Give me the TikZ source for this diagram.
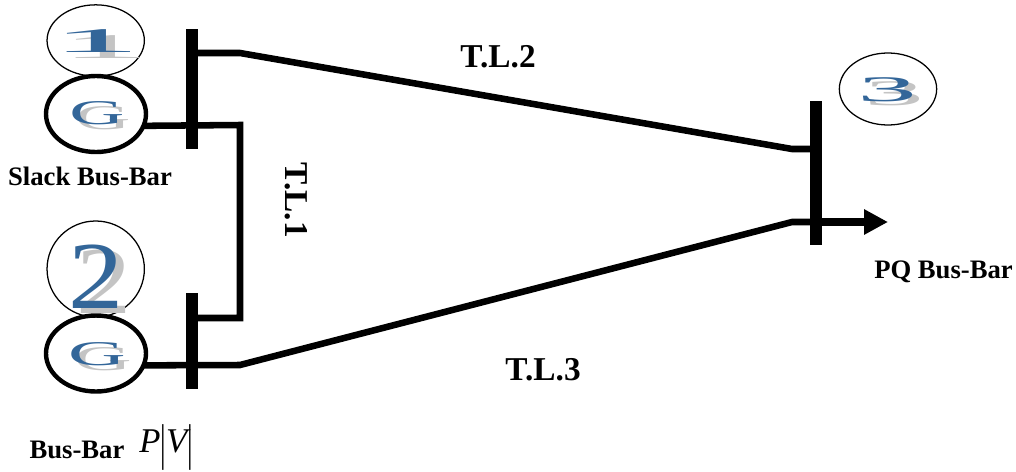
\documentclass[tikz,border=0pt]{standalone}
\usepackage{fontspec}
\usepackage{graphicx}
\setmainfont{Liberation Serif}
\usetikzlibrary{shapes.geometric,arrows.meta}
\definecolor{wablue}{HTML}{336699}
\definecolor{wagray}{HTML}{C4C4C4}
\tikzset{
  busbar/.style={draw=none,fill=black,minimum width=9pt,inner sep=0pt,outer sep=0pt},
  gen/.style={ellipse,draw=black,line width=3.3pt,minimum width=75pt,minimum height=57pt,inner sep=0pt,outer sep=0pt},
  numring/.style={ellipse,draw=black,line width=0.95pt,minimum width=73pt,inner sep=0pt,outer sep=0pt},
  wire/.style={line width=4.9pt,line join=miter},
  lbl/.style={font=\fontsize{20}{22}\selectfont\bfseries,inner sep=0pt},
  tllbl/.style={font=\fontsize{25}{27}\selectfont\bfseries,inner sep=0pt},
  wordart/.style={inner sep=0pt,outer sep=0pt,text=wablue},
  wordshadow/.style={inner sep=0pt,outer sep=0pt,text=wagray}
}
\begin{document}
\begin{tikzpicture}[x=0.75pt,y=-0.75pt]
\useasboundingbox (0,0) rectangle (1016,471);
% bars
\node[busbar,minimum height=90pt] (bar1) at (192,89) {};
\node[busbar,minimum height=72pt] (bar2) at (192,341) {};
\node[busbar,minimum height=108pt] (bar3) at (816,173) {};
% rings and generators
\node[numring,minimum height=53.5pt] (ring1) at (95.7,40.5) {};
\node[gen] (gen1) at (96,114) {};
\node[numring,minimum height=72pt] (ring2) at (95.7,269) {};
\node[gen] (gen2) at (96,353.5) {};
\node[numring,minimum height=54pt] (ring3) at (888,89) {};
% corners
\coordinate (c1) at (240,125);
\coordinate (c2) at (240,318);
\coordinate (t2a) at (240,53);
\coordinate (t2b) at (792,149);
\coordinate (t3a) at (240,365);
\coordinate (t3b) at (792,222);
\coordinate (loadend) at (888,222);
% connectors
\draw[wire] (gen1.-14) -- (c1) -- (c2) -- (bar2.center |- c2);
\draw[wire] (bar1.center |- t2a) -- (t2a) -- (t2b) -- (bar3.center |- t2b);
\draw[wire] (gen2.-14) -- (t3a) -- (t3b) -- (bar3.center |- t3b);
\draw[line width=5.4pt,-{Triangle[length=18pt,width=18pt]}] (bar3.center |- t3b) -- (loadend);
% number and generator glyphs
\node[wordshadow,xscale=5.2] (s1) at (105,47) {\fontsize{26}{26}\selectfont 1};
\node[wordart,xscale=5.2] (n1) at (96,41.5) {\fontsize{26}{26}\selectfont 1};
\node[wordshadow,xscale=2.2] (sg1) at (103,118) {\fontsize{26}{26}\selectfont G};
\node[wordart,xscale=2.2] (g1) at (97,113.5) {\fontsize{26}{26}\selectfont G};
\node[wordshadow,xscale=1.15] (s2) at (104,282) {\fontsize{72}{72}\selectfont 2};
\node[wordart,xscale=1.15] (n2) at (96.5,277) {\fontsize{72}{72}\selectfont 2};
\node[wordshadow,xscale=2.3] (sg2) at (103,359) {\fontsize{26}{26}\selectfont G};
\node[wordart,xscale=2.3] (g2) at (97,354.5) {\fontsize{26}{26}\selectfont G};
\node[wordshadow,xscale=3.3] (s3) at (894,94) {\fontsize{27}{27}\selectfont 3};
\node[wordart,xscale=3.3] (n3) at (887,90) {\fontsize{27}{27}\selectfont 3};
% labels
\node[lbl] (slack) at (90,176) {Slack Bus-Bar};
\node[lbl] (pq) at (943.5,272) {PQ Bus-Bar};
\node[lbl] (pv) at (77,450) {Bus-Bar};
\node[inner sep=0pt,font=\fontsize{26}{28}\selectfont\itshape] (pvsym) at (166,447) {P\raisebox{-0.2em}{\scalebox{0.8}[1.45]{\upshape|}}V\raisebox{-0.2em}{\scalebox{0.8}[1.45]{\upshape|}}};
\node[tllbl] (tl2) at (498,57) {T.L.2};
\node[tllbl] (tl3) at (543,370) {T.L.3};
\node[tllbl,rotate=-90] (tl1) at (296,200) {T.L.1};
\end{tikzpicture}
\end{document}
